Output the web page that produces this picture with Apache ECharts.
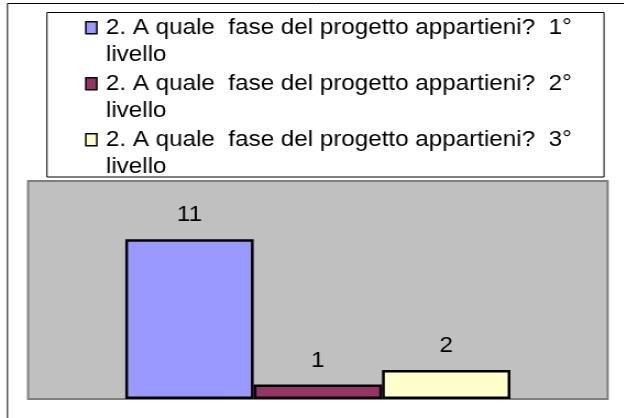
<!DOCTYPE html>
<html>
<head>
<meta charset="utf-8">
<script src="https://cdn.jsdelivr.net/npm/echarts@6/dist/echarts.min.js"></script>
<style>
  html, body { margin: 0; padding: 0; background: #fff; overflow: hidden; }
  /* the reference is a bit stretched sideways, so draw narrower and scale x */
  #chart { width: 567.3px; height: 418px; transform: scaleX(1.1); transform-origin: 0 0; }
</style>
</head>
<body>
<div id="chart"></div>
<script>
const categories = [''];
const seriesNames = [
  '2. A quale  fase del progetto appartieni?  1° livello',
  '2. A quale  fase del progetto appartieni?  2° livello',
  '2. A quale  fase del progetto appartieni?  3° livello'
];
const seriesValues = [11, 1, 2];
const seriesColors = ['#9999ff', '#993366', '#ffffcc'];
const yMin = 0;
const yMax = 15;

const font = 'Liberation Sans, Arial, sans-serif';
const chart = echarts.init(document.getElementById('chart'));

const series = seriesNames.map((name, i) => ({
  type: 'bar',
  name: name,
  data: [seriesValues[i]],
  barWidth: 116.7,
  barGap: '0%',
  itemStyle: { color: seriesColors[i], borderColor: '#000', borderWidth: 2.5 },
  label: {
    show: true,
    position: 'top',
    distance: 13,
    fontSize: 22,
    fontFamily: font,
    color: '#000'
  }
}));

const option = {
  animation: false,
  grid: {
    left: 25.5,
    right: 14.6,
    top: 181,
    bottom: 19,
    show: true,
    backgroundColor: '#c0c0c0',
    borderColor: '#808080',
    borderWidth: 2
  },
  legend: {
    orient: 'vertical',
    left: 77.3,
    top: 13.5,
    padding: 0,
    itemGap: 0,
    itemWidth: 13.2,
    itemHeight: 54.5,
    // square sits on the first text line
    icon: 'path://M0,0M13.2,54.5M0,7.5h10v12h-10z',
    itemStyle: { borderColor: '#000', borderWidth: 1.5 },
    selectedMode: false,
    textStyle: { fontFamily: font, fontSize: 22, lineHeight: 26.8, color: '#000' },
    formatter: name => name.replace(' livello', '\nlivello')
  },
  xAxis: { type: 'category', data: categories, show: false },
  yAxis: { type: 'value', min: yMin, max: yMax, show: false },
  series: series,
  graphic: [
    {
      type: 'rect', silent: true, z: -1,
      shape: { x: 6.8, y: 3.5, width: 700, height: 600 },
      style: { fill: 'none', stroke: '#000', lineWidth: 1 }
    },
    {
      type: 'rect', silent: true,
      shape: { x: 42.7, y: 12.5, width: 506.4, height: 164.5 },
      style: { fill: 'none', stroke: '#000', lineWidth: 1 }
    }
  ]
};

chart.setOption(option);
</script>
</body>
</html>
